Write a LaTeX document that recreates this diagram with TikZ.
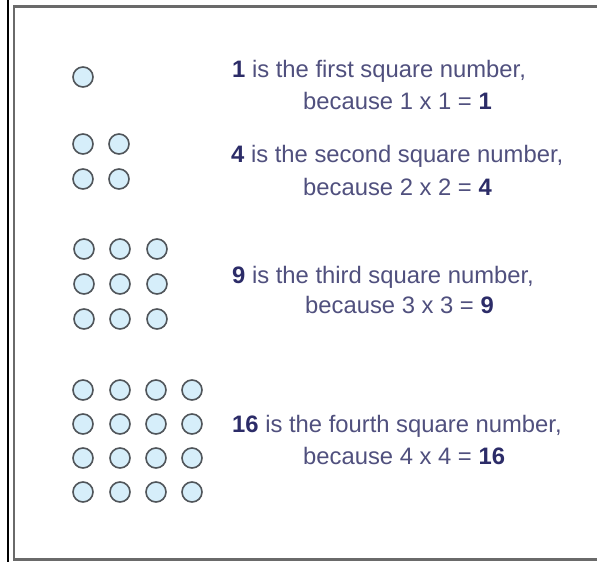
\documentclass[tikz,border=0pt]{standalone}
\usepackage{fontspec}
\setmainfont{Liberation Sans}
\definecolor{dotfill}{HTML}{D6EEFA}
\definecolor{dotline}{HTML}{50555A}
\definecolor{txt}{HTML}{50507E}
\definecolor{num}{HTML}{2C2C68}
\definecolor{framegray}{HTML}{6A6A6A}
\begin{document}
\begin{tikzpicture}[x=1pt,y=-1pt,
  dot/.style={circle,draw=dotline,fill=dotfill,line width=1.6pt,minimum size=20pt,inner sep=0pt},
  lbl/.style={anchor=base west,inner sep=0pt,text=txt,font=\fontsize{23.8}{27}\selectfont},
  framebox/.style={draw=framegray,line width=2.2pt},
  outer/.style={draw=black,line width=2pt}]
\useasboundingbox (0,0) rectangle (597,562);
\fill[white] (0,0) rectangle (597,562);
% frame
\coordinate (f2) at (14,6.5);
\coordinate (f3) at (620,6.5);
\coordinate (f4) at (14,559.5);
\coordinate (f5) at (620,559.5);
\draw[framebox] (f3) -- (f2) -- (f4) -- (f5);
\coordinate (o1) at (7.5,-5);
\coordinate (o2) at (7.5,570);
\draw[outer] (o1) -- (o2);
% one
\node[dot] (a11) at (83,77) {};
% four
\foreach \r [count=\i] in {144,179}
  \foreach \c [count=\j] in {83,119}
    \node[dot] (b\i\j) at (\c,\r) {};
% nine
\foreach \r [count=\i] in {249,284,319}
  \foreach \c [count=\j] in {84,120,157}
    \node[dot] (c\i\j) at (\c,\r) {};
% sixteen
\foreach \r [count=\i] in {390,424,458,492}
  \foreach \c [count=\j] in {83,120,156,192}
    \node[dot] (d\i\j) at (\c,\r) {};
% texts
\node[lbl] (t1a) at (232,77) {\textcolor{num}{\textbf{1}} is the first square number,};
\node[lbl] (t1b) at (303,109) {because 1 x 1 = \textcolor{num}{\textbf{1}}};
\node[lbl] (t2a) at (231,162) {\textcolor{num}{\textbf{4}} is the second square number,};
\node[lbl] (t2b) at (303,195) {because 2 x 2 = \textcolor{num}{\textbf{4}}};
\node[lbl] (t3a) at (232,283) {\textcolor{num}{\textbf{9}} is the third square number,};
\node[lbl] (t3b) at (305,313) {because 3 x 3 = \textcolor{num}{\textbf{9}}};
\node[lbl] (t4a) at (232,432) {\textcolor{num}{\textbf{16}} is the fourth square number,};
\node[lbl] (t4b) at (303,464) {because 4 x 4 = \textcolor{num}{\textbf{16}}};
\end{tikzpicture}
\end{document}
